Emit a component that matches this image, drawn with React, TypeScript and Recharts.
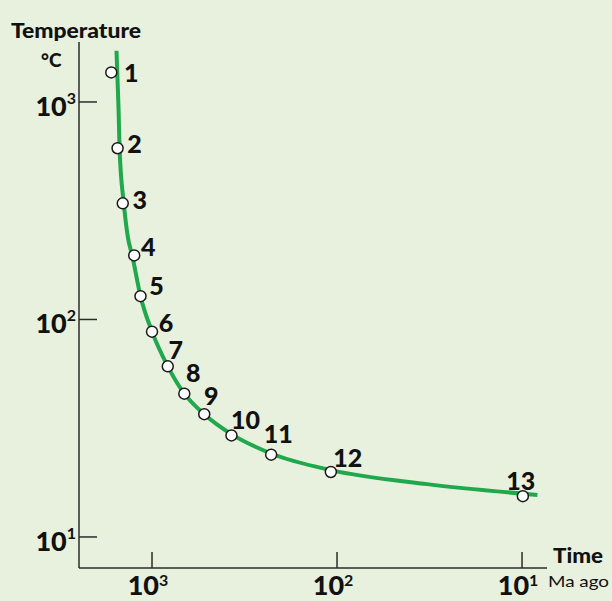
import React from 'react';
import { ComposedChart, XAxis, YAxis, Line, Scatter } from 'recharts';

// ---- Data ----
const sampleIds = [1, 2, 3, 4, 5, 6, 7, 8, 9, 10, 11, 12, 13];
const sampleAgeMa = [1660, 1535, 1439, 1248, 1154, 1000, 822, 669, 522, 372, 227, 108, 9.9];
const sampleTempC = [1367, 613, 342, 197, 128, 87.9, 60.9, 45.6, 36.7, 29.3, 23.9, 19.9, 15.4];

const curveAgeMa = [1556, 1516, 1497, 1421, 1349, 1280, 1154, 1000, 822, 669, 522, 372, 227, 108, 32.6, 8.26];
const curveTempC = [1719, 920, 607, 342, 238, 197, 128, 87.9, 60.9, 45.6, 36.7, 29.7, 24.2, 20.3, 17.5, 15.6];

const axisTickValues = [1000, 100, 10];
const axisTickExponents: Record<number, string> = { 1000: '3', 100: '2', 10: '1' };

// ---- Styling ----
const BG = '#e8f0de';
const AXIS = '#2b2b2b';
const GREEN = '#1fa84c';
const FONT = 'Lato, "Open Sans", sans-serif';
// label offset (dx, dy) of each sample number relative to its marker (styling)
const LABEL_OFFSETS: [number, number][] = [
  [20, 0], [17, -5], [17, -4], [14, -9], [16, -11], [14, -10], [8, -17],
  [9, -22], [7, -19], [14, -16], [7, -22], [17, -15], [-2, -16],
];

const sampleData = sampleIds.map((id, i) => ({ id, age: sampleAgeMa[i], temp: sampleTempC[i] }));
const curveData = curveAgeMa.map((age, i) => ({ age, temp: curveTempC[i] }));

const XTick = (props: any) => {
  const { x, y, payload } = props;
  const exp = axisTickExponents[payload.value];
  return (
    <g>
      <line x1={x} x2={x} y1={y} y2={y - 16} stroke={AXIS} strokeWidth={1.5} />
      <text x={x - 4} y={y + 27} textAnchor="middle" fontFamily={FONT} fontWeight={900} fontSize={27} fill="#111">
        10<tspan dy={-9} fontSize={16} fontWeight={700}>{exp}</tspan>
      </text>
    </g>
  );
};

const YTick = (props: any) => {
  const { x, y, payload } = props;
  const exp = axisTickExponents[payload.value];
  return (
    <g>
      <line x1={x} x2={x + 18} y1={y} y2={y} stroke={AXIS} strokeWidth={1.5} />
      <text x={x - 3} y={y + 14} textAnchor="end" fontFamily={FONT} fontWeight={900} fontSize={27} fill="#111">
        10<tspan dy={-12} fontSize={16} fontWeight={700}>{exp}</tspan>
      </text>
    </g>
  );
};

const SampleMarker = (props: any) => {
  const { cx, cy, payload } = props;
  if (cx == null || cy == null) return null;
  const [dx, dy] = LABEL_OFFSETS[payload.id - 1];
  return (
    <g>
      <circle cx={cx} cy={cy} r={5.5} fill="#ffffff" stroke="#1a1a1a" strokeWidth={1.5} />
      <text
        x={cx + dx}
        y={cy + dy}
        textAnchor="middle"
        dominantBaseline="central"
        fontFamily={FONT}
        fontWeight={900}
        fontSize={25}
        fill="#111"
      >
        {payload.id}
      </text>
    </g>
  );
};

export default function App() {
  return (
    <div style={{ position: 'absolute', left: 0, top: 0, width: 612, height: 601, background: BG, overflow: 'hidden' }}>
      <ComposedChart
        width={612}
        height={601}
        margin={{ top: 42, right: 65, bottom: 3, left: 19 }}
      >
        <XAxis
          dataKey="age"
          type="number"
          scale="log"
          domain={[7.33, 2481]}
          allowDataOverflow
          reversed
          ticks={axisTickValues}
          tick={<XTick />}
          tickLine={false}
          tickSize={0}
          tickMargin={0}
          height={30}
          axisLine={{ stroke: AXIS, strokeWidth: 1.5 }}
        />
        <YAxis
          dataKey="temp"
          type="number"
          scale="log"
          domain={[7.2, 1887]}
          allowDataOverflow
          ticks={axisTickValues}
          tick={<YTick />}
          tickLine={false}
          tickSize={0}
          tickMargin={0}
          width={60}
          axisLine={{ stroke: AXIS, strokeWidth: 1.5 }}
        />
        <Line
          data={curveData}
          dataKey="temp"
          type="monotone"
          stroke={GREEN}
          strokeWidth={4}
          dot={false}
          activeDot={false}
          isAnimationActive={false}
        />
        <Scatter data={sampleData} dataKey="temp" shape={<SampleMarker />} isAnimationActive={false} />
      </ComposedChart>
      <svg width={612} height={601} style={{ position: 'absolute', left: 0, top: 0, pointerEvents: 'none' }}>
        <text x={11} y={38} fontFamily={FONT} fontWeight={900} fontSize={21} fill="#111" textLength={130} lengthAdjust="spacingAndGlyphs">
          Temperature
        </text>
        <text x={41} y={67} fontFamily={FONT} fontWeight={900} fontSize={19} fill="#111">
          °C
        </text>
        <text x={553} y={563} fontFamily={FONT} fontWeight={900} fontSize={21} fill="#111" textLength={50} lengthAdjust="spacingAndGlyphs">
          Time
        </text>
        <text x={548} y={587} fontFamily={FONT} fontWeight={400} fontSize={15} fill="#111" textLength={61} lengthAdjust="spacingAndGlyphs">
          Ma ago
        </text>
      </svg>
    </div>
  );
}
